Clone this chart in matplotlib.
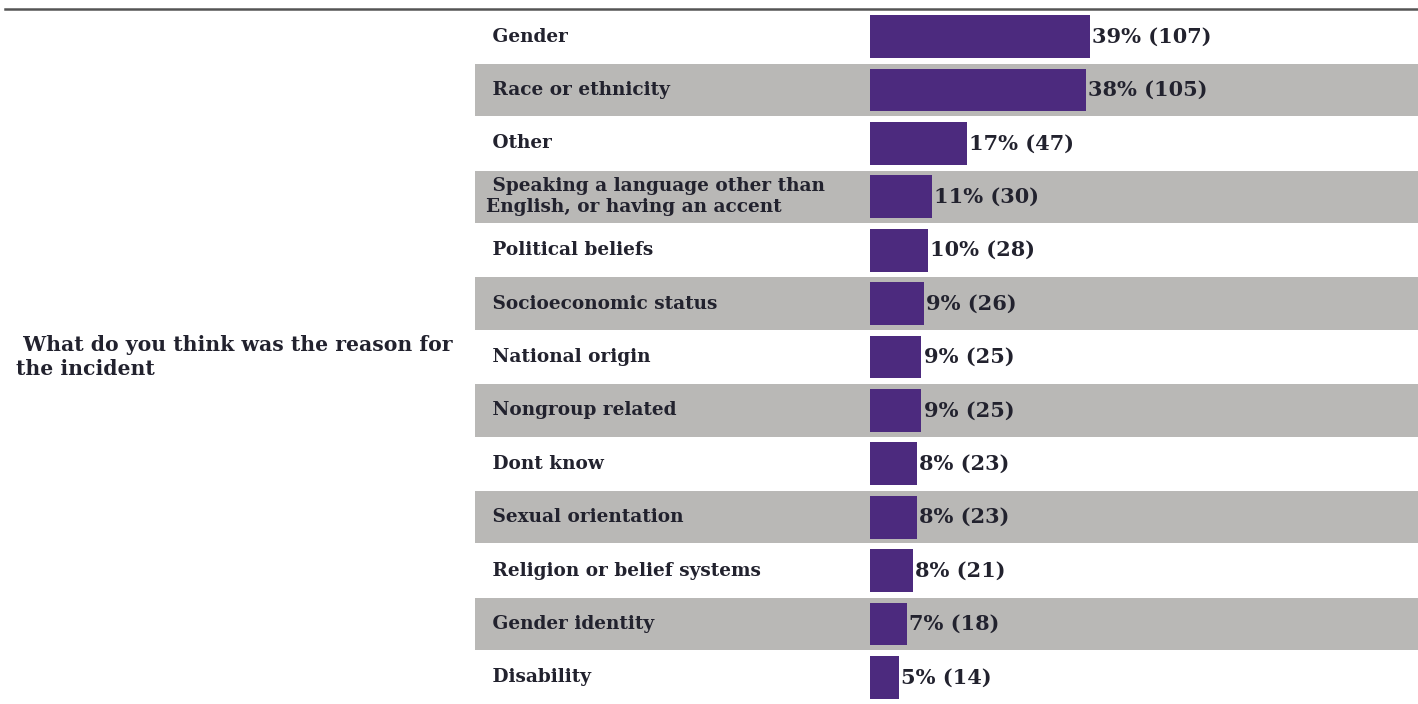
import matplotlib.pyplot as plt
from matplotlib.lines import Line2D
import matplotlib.transforms as mtransforms

# データ
question = " What do you think was the reason for\nthe incident"
categories = [
    "Gender",
    "Race or ethnicity",
    "Other",
    "Speaking a language other than\nEnglish, or having an accent",
    "Political beliefs",
    "Socioeconomic status",
    "National origin",
    "Nongroup related",
    "Dont know",
    "Sexual orientation",
    "Religion or belief systems",
    "Gender identity",
    "Disability",
]
percents = [39, 38, 17, 11, 10, 9, 9, 9, 8, 8, 8, 7, 5]
counts = [107, 105, 47, 30, 28, 26, 25, 25, 23, 23, 21, 18, 14]

# スタイル
bar_color = '#4c2a7e'
band_color = '#b9b8b6'
text_color = '#22222e'
font = 'DejaVu Serif'

W, H = 1418, 704
fig = plt.figure(figsize=(W / 100, H / 100), dpi=100)

# 表部分の軸（x: 475〜1418px, y: 10〜704px）
ax = fig.add_axes([475 / W, 0, (W - 475) / W, (H - 10) / H])
px_per_count = 2.06
ax.set_xlim(-(870 - 475) / px_per_count, (W - 870) / px_per_count)
ax.set_ylim(len(categories) - 0.5, -0.5)
ax.axis('off')

trans = mtransforms.blended_transform_factory(ax.transAxes, ax.transData)
for i, (cat, pct, n) in enumerate(zip(categories, percents, counts)):
    if i % 2 == 1:
        ax.axhspan(i - 0.49, i + 0.49, color=band_color, lw=0, zorder=0)
    ax.barh(i, n, height=0.8, color=bar_color, zorder=2)
    # カテゴリ名
    ax.text(11 / (W - 475), i, " " + cat, transform=trans, ha='left', va='center',
            fontsize=13.3, fontweight='bold', family=font, color=text_color,
            linespacing=1.2)
    # 値ラベル
    ax.text(n + 1, i, f"{pct}% ({n})", ha='left', va='center',
            fontsize=15, fontweight='bold', family=font, color=text_color)

# 質問テキスト
fig.text(16 / W, 1 - 357 / H, question, ha='left', va='center',
         fontsize=14.7, fontweight='bold', family=font, color=text_color,
         linespacing=1.2)

# 上部の罫線
fig.add_artist(Line2D([5 / W, 1], [1 - 8.5 / H, 1 - 8.5 / H], color='#555555', lw=1.8))

fig.savefig('out.png', dpi=100, facecolor='white')
